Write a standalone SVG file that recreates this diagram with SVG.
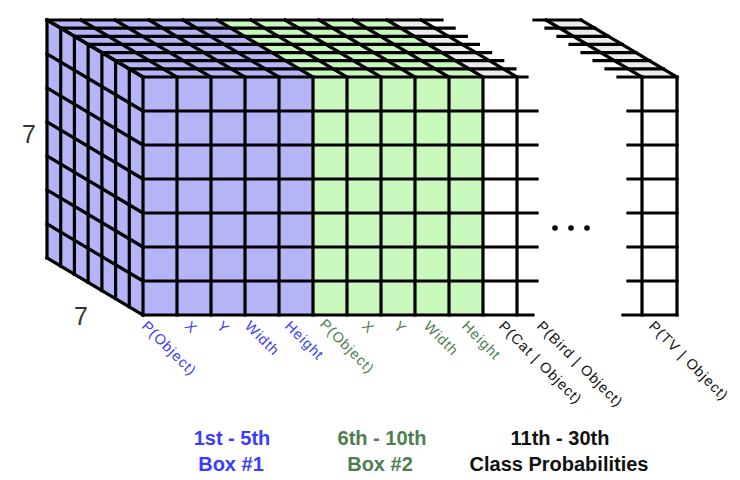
<svg xmlns="http://www.w3.org/2000/svg" width="740" height="480" viewBox="0 0 740 480">
<style>
.ln{stroke:#000;stroke-width:3.2;fill:none;stroke-linecap:square}
.pu{fill:#b4b4f7}
.gr{fill:#c9f8bc}
.wt{fill:#ffffff}
.tg{fill:#ececec}
.lb{font-family:"Liberation Sans",Arial,sans-serif;font-size:14.5px;letter-spacing:1px}
.bl{fill:#3b3bff}
.gn{fill:#4e7e50}
.bk{fill:#111}
.big{font-family:"Liberation Sans",Arial,sans-serif;font-size:20px;font-weight:bold;text-anchor:middle}
.seven{font-family:"Liberation Sans",Arial,sans-serif;font-size:25px;fill:#333;text-anchor:middle}
</style>
<rect width="740" height="480" fill="#fff"/>
<g id="block-main">
  <polygon class="pu" points="143,77 313,77 217,20 47,20"/>
  <polygon class="gr" points="313,77 483,77 387,20 217,20"/>
  <polygon class="tg" points="483,77 517,77 421,20 387,20"/>
  <polygon class="pu" points="47,20 143,77 143,315 47,258"/>
  <rect class="pu" x="143" y="77" width="170" height="238"/>
  <rect class="gr" x="313" y="77" width="170" height="238"/>
  <rect class="wt" x="483" y="77" width="34" height="238"/>
  <path class="ln" d="M47 20H442 M60.7 28.1H454.1 M74.4 36.3H466.3 M88.1 44.4H478.4 M101.9 52.6H490.6 M115.6 60.7H502.7 M129.3 68.9H514.9 M143 77H527"/>
  <path class="ln" d="M143 77L47 20 M177 77L81 20 M211 77L115 20 M245 77L149 20 M279 77L183 20 M313 77L217 20 M347 77L251 20 M381 77L285 20 M415 77L319 20 M449 77L353 20 M483 77L387 20 M517 77L421 20"/>
  <path class="ln" d="M47 20V258 M60.7 28.1V266.1 M74.4 36.3V274.3 M88.1 44.4V282.4 M101.9 52.6V290.6 M115.6 60.7V298.7 M129.3 68.9V306.9"/>
  <path class="ln" d="M47 20L143 77 M47 54L143 111 M47 88L143 145 M47 122L143 179 M47 156L143 213 M47 190L143 247 M47 224L143 281 M47 258L143 315"/>
  <path class="ln" d="M143 77V315 M177 77V315 M211 77V315 M245 77V315 M279 77V315 M313 77V315 M347 77V315 M381 77V315 M415 77V315 M449 77V315 M483 77V315 M517 77V315"/>
  <path class="ln" d="M143 111H537 M143 145H537 M143 179H537 M143 213H537 M143 247H537 M143 281H537 M143 315H533"/>
</g>
<g id="ellipsis" fill="#000">
  <circle cx="555" cy="228" r="2.8"/>
  <circle cx="571" cy="228" r="2.8"/>
  <circle cx="587" cy="228" r="2.8"/>
</g>
<g id="block-last">
  <polygon class="tg" points="642,77 677,77 581,20 546,20"/>
  <rect class="wt" x="642" y="77" width="35" height="238"/>
  <path class="ln" d="M534 20H581 M546 28.1H594.7 M558 36.3H608.4 M570 44.4H622.1 M582 52.6H635.9 M594 60.7H649.6 M606 68.9H663.3 M618 77H677"/>
  <path class="ln" d="M642 77L546 20 M677 77L581 20"/>
  <path class="ln" d="M642 77V315 M677 77V315"/>
  <path class="ln" d="M628 111H677 M628 145H677 M628 179H677 M628 213H677 M628 247H677 M628 281H677 M623 315H677"/>
</g>
<g id="dims">
  <text class="seven" x="29" y="143">7</text>
  <text class="seven" x="81" y="325">7</text>
</g>
<g id="channel-labels" class="lb">
  <text class="bl" transform="translate(141,327) rotate(45)">P(Object)</text>
  <text class="bl" transform="translate(184,327) rotate(45)">X</text>
  <text class="bl" transform="translate(216,327) rotate(45)">Y</text>
  <text class="bl" transform="translate(244,327) rotate(45)">Width</text>
  <text class="bl" transform="translate(284,327) rotate(45)">Height</text>
  <text class="gn" transform="translate(319,325) rotate(45)">P(Object)</text>
  <text class="gn" transform="translate(361,327) rotate(45)">X</text>
  <text class="gn" transform="translate(393,327) rotate(45)">Y</text>
  <text class="gn" transform="translate(423,327) rotate(45)">Width</text>
  <text class="gn" transform="translate(461,327) rotate(45)">Height</text>
  <text class="bk" transform="translate(498,327) rotate(45)">P(Cat | Object)</text>
  <text class="bk" transform="translate(536,327) rotate(45)">P(Bird | Object)</text>
  <text class="bk" transform="translate(648,327) rotate(45)">P(TV | Object)</text>
</g>
<g id="legend-box1" class="big bl">
  <text x="232" y="445">1st - 5th</text>
  <text x="231" y="471">Box #1</text>
</g>
<g id="legend-box2" class="big gn">
  <text x="382" y="445">6th - 10th</text>
  <text x="380" y="471">Box #2</text>
</g>
<g id="legend-classes" class="big bk">
  <text x="560" y="445">11th - 30th</text>
  <text x="559" y="471">Class Probabilities</text>
</g>
</svg>
